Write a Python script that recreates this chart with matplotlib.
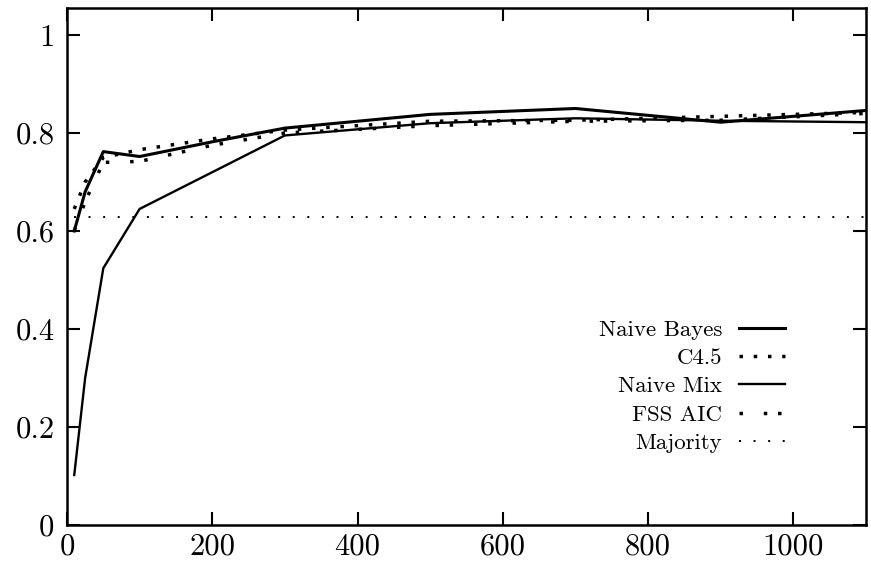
import matplotlib
matplotlib.use('Agg')
import matplotlib.pyplot as plt

plt.rcParams['font.family'] = ['cmr10', 'DejaVu Serif']
plt.rcParams['axes.formatter.use_mathtext'] = True

# sample sizes and accuracies
x = [10, 25, 50, 100, 200, 300, 500, 700, 900, 1100]
naive_bayes = [0.600, 0.680, 0.762, 0.752, 0.782, 0.810, 0.838, 0.850, 0.822, 0.846]
c45 = [0.645, 0.700, 0.750, 0.766, 0.788, 0.806, 0.824, 0.826, 0.834, 0.842]
naive_mix = [0.102, 0.300, 0.524, 0.645, 0.720, 0.795, 0.820, 0.830, 0.825, 0.822]
fss_aic = [0.600, 0.660, 0.740, 0.742, 0.775, 0.800, 0.815, 0.824, 0.826, 0.840]
majority = [0.628] * len(x)

xticks = [0, 200, 400, 600, 800, 1000]
yticks = [0, 0.2, 0.4, 0.6, 0.8, 1]
ytick_labels = ['0', '0.2', '0.4', '0.6', '0.8', '1']

fig = plt.figure(figsize=(8.71, 5.75), dpi=100)
ax = fig.add_axes([0.0769, 0.087, 0.9174, 0.899])

ax.plot(x, naive_bayes, color='black', lw=2.2, label='Naive Bayes')
ax.plot(x, c45, color='black', lw=2.5, linestyle=(0, (1, 3.1)),
        dash_capstyle='butt', label='C4.5')
ax.plot(x, naive_mix, color='black', lw=1.7, label='Naive Mix')
ax.plot(x, fss_aic, color='black', lw=2.5, linestyle=(0, (1, 6, 1, 3.1)),
        dash_capstyle='butt', label='FSS AIC')
ax.plot(x, majority, color='black', lw=1.4, linestyle=(0, (1, 6.5)),
        dash_capstyle='butt', label='Majority')

ax.set_xlim(0, 1100)
ax.set_ylim(0, 1.055)
ax.set_xticks(xticks)
ax.set_xticklabels([str(t) for t in xticks])
ax.set_yticks(yticks)
ax.set_yticklabels(ytick_labels)
ax.tick_params(direction='in', length=9.5, width=1.5, labelsize=22,
               top=True, right=True)
ax.tick_params(axis='y', pad=9)
ax.tick_params(axis='x', pad=6)
for s in ax.spines.values():
    s.set_linewidth(1.8)

ax.legend(loc='upper right', bbox_to_anchor=(0.91, 0.415), frameon=False,
          markerfirst=False, fontsize=16.5, handlelength=2.0,
          labelspacing=0.36, handletextpad=0.75, borderaxespad=0)

fig.savefig('out.png', dpi=100)
